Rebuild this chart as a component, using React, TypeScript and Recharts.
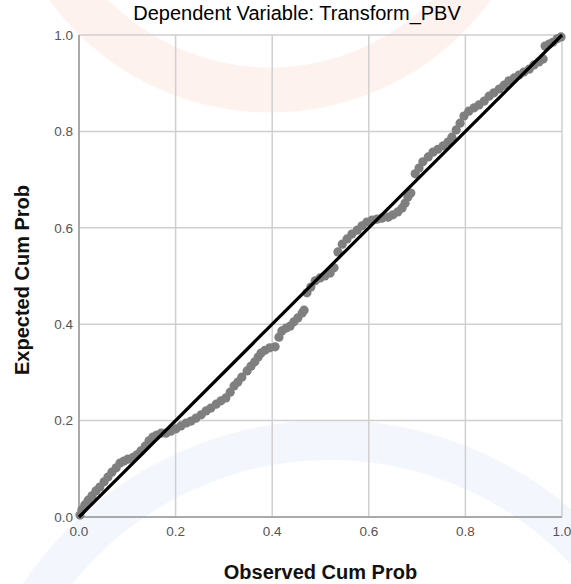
import { ScatterChart, Scatter, XAxis, YAxis, CartesianGrid } from 'recharts';

// P-P plot of regression standardized residual
const observed = [
  0.002, 0.006, 0.012, 0.019, 0.027, 0.035, 0.043, 0.052, 0.06, 0.068,
  0.077, 0.085, 0.093, 0.101, 0.112, 0.12, 0.128, 0.137, 0.145, 0.153,
  0.161, 0.17, 0.18, 0.19, 0.201, 0.211, 0.222, 0.232, 0.242, 0.253,
  0.263, 0.273, 0.284, 0.294, 0.304, 0.313, 0.321, 0.329, 0.337, 0.348,
  0.356, 0.364, 0.371, 0.377, 0.385, 0.395, 0.406, 0.414, 0.42, 0.429,
  0.437, 0.445, 0.453, 0.462, 0.466, 0.472, 0.48, 0.489, 0.499, 0.509,
  0.52, 0.528, 0.536, 0.545, 0.555, 0.565, 0.576, 0.586, 0.596, 0.607,
  0.617, 0.627, 0.64, 0.65, 0.66, 0.669, 0.675, 0.681, 0.687, 0.696,
  0.704, 0.712, 0.723, 0.733, 0.743, 0.754, 0.764, 0.772, 0.781, 0.789,
  0.797, 0.807, 0.818, 0.828, 0.839, 0.849, 0.859, 0.87, 0.88, 0.89,
  0.901, 0.911, 0.921, 0.932, 0.942, 0.952, 0.961, 0.965, 0.973, 0.981,
  0.99, 0.998,
];
const expected = [
  0.004, 0.015, 0.025, 0.035, 0.044, 0.054, 0.062, 0.073, 0.083, 0.093,
  0.102, 0.112, 0.116, 0.12, 0.124, 0.129, 0.137, 0.147, 0.158, 0.166,
  0.17, 0.174, 0.174, 0.178, 0.183, 0.189, 0.195, 0.199, 0.205, 0.212,
  0.22, 0.226, 0.234, 0.241, 0.247, 0.259, 0.272, 0.28, 0.29, 0.303,
  0.313, 0.322, 0.332, 0.34, 0.346, 0.351, 0.353, 0.373, 0.386, 0.392,
  0.396, 0.405, 0.413, 0.423, 0.429, 0.465, 0.477, 0.49, 0.496, 0.5,
  0.506, 0.517, 0.55, 0.566, 0.577, 0.587, 0.595, 0.604, 0.612, 0.616,
  0.618, 0.62, 0.622, 0.627, 0.633, 0.641, 0.651, 0.664, 0.672, 0.712,
  0.724, 0.737, 0.747, 0.757, 0.763, 0.77, 0.778, 0.788, 0.803, 0.817,
  0.832, 0.842, 0.849, 0.855, 0.863, 0.873, 0.88, 0.888, 0.896, 0.905,
  0.911, 0.917, 0.923, 0.929, 0.938, 0.944, 0.95, 0.977, 0.981, 0.985,
  0.992, 0.996,
];
const ticks = [0, 0.2, 0.4, 0.6, 0.8, 1.0];
// reference diagonal (expected = observed)
const diagonal = [
  { x: 0, y: 0 },
  { x: 1, y: 1 },
];

const points = observed.map((x, i) => ({ x, y: expected[i] }));

const FONT = '"Liberation Sans", Arial, sans-serif';

function Dot(props: any) {
  return <circle cx={props.cx} cy={props.cy} r={4.6} fill="#7f7f7f" />;
}

function NoDot() {
  return <g />;
}

function YLabel(props: any) {
  const vb = props.viewBox || { x: 0, y: 35, width: 79, height: 482 };
  const cx = vb.x + 22;
  const cy = vb.y + vb.height / 2 + 4;
  return (
    <text
      x={cx}
      y={cy}
      transform={`rotate(-90 ${cx} ${cy})`}
      textAnchor="middle"
      dominantBaseline="central"
      fontFamily={FONT}
      fontSize={20}
      fontWeight="bold"
      fill="#111"
    >
      Expected Cum Prob
    </text>
  );
}

function Watermark() {
  return (
    <svg width={571} height={584} style={{ position: 'absolute', left: 0, top: 0 }}>
      <circle cx={270} cy={-160} r={250} fill="none" stroke="#fef2ee" strokeWidth={45} />
      <circle cx={330} cy={790} r={350} fill="none" stroke="#f3f7fd" strokeWidth={40} />
    </svg>
  );
}

export default function App() {
  return (
    <div style={{ position: 'absolute', left: 0, top: 0, width: 571, height: 584, background: '#fff', fontFamily: FONT }}>
      <Watermark />
      <div
        style={{
          position: 'absolute',
          left: 97,
          width: 400,
          top: 2,
          textAlign: 'center',
          fontSize: 20,
          color: '#000',
          zIndex: 2,
        }}
      >
        Dependent Variable: Transform_PBV
      </div>
      <div style={{ position: 'absolute', left: 0, top: 0 }}>
        <ScatterChart width={571} height={584} margin={{ top: 35, right: 9, bottom: 0, left: 0 }}>
          <CartesianGrid stroke="#cfcfcf" strokeWidth={1.5} />
          <XAxis
            type="number"
            dataKey="x"
            domain={[0, 1]}
            ticks={ticks}
            tickFormatter={(v: number) => v.toFixed(1)}
            height={67}
            tickSize={0}
            tickMargin={9}
            axisLine={{ stroke: '#9a9a9a', strokeWidth: 1.5 }}
            tick={{ fill: '#555', fontSize: 13.5, fontFamily: FONT }}
            label={{
              value: 'Observed Cum Prob',
              position: 'insideBottom',
              offset: 5,
              style: { fontFamily: FONT, fontSize: 20, fontWeight: 'bold', fill: '#111' },
            }}
          />
          <YAxis
            type="number"
            dataKey="y"
            domain={[0, 1]}
            ticks={ticks}
            tickFormatter={(v: number) => v.toFixed(1)}
            width={79}
            tickSize={0}
            tickMargin={6}
            axisLine={{ stroke: '#9a9a9a', strokeWidth: 1.5 }}
            tick={{ fill: '#555', fontSize: 13.5, fontFamily: FONT }}
            label={<YLabel />}
          />
          <Scatter data={points} shape={<Dot />} isAnimationActive={false} />
          <Scatter
            data={diagonal}
            shape={<NoDot />}
            line={{ stroke: '#000', strokeWidth: 3.2 }}
            isAnimationActive={false}
          />
        </ScatterChart>
      </div>
    </div>
  );
}
